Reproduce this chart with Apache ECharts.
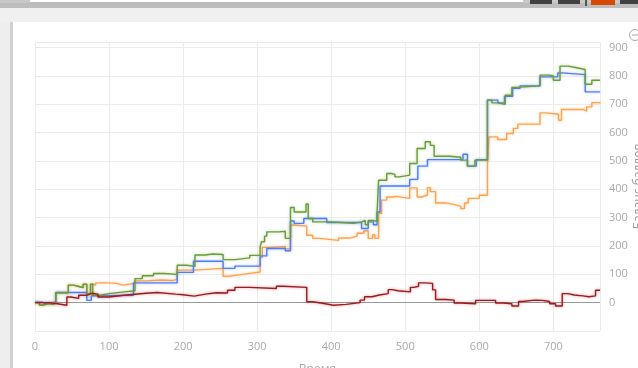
<!DOCTYPE html>
<html>
<head>
<meta charset="utf-8">
<script src="https://cdn.jsdelivr.net/npm/echarts@6/dist/echarts.min.js"></script>
<style>
html,body{margin:0;padding:0;background:#fff;width:638px;height:368px;overflow:hidden;}
#chart{position:absolute;left:0;top:0;width:638px;height:368px;}
.d{position:absolute;z-index:5;}
</style>
</head>
<body>
<div id="chart"></div>
<div class="d" style="left:0;top:0;width:638px;height:3px;background:#c8c8c8"></div>
<div class="d" style="left:30px;top:0;width:493px;height:3px;background:#fff;border-bottom:1px solid #bbb;box-sizing:border-box"></div>
<div class="d" style="left:0;top:3px;width:638px;height:5px;background:#bdbdbd"></div>
<div class="d" style="left:0;top:8px;width:638px;height:14px;background:#f0f0f0"></div>
<div class="d" style="left:0;top:22px;width:10px;height:346px;background:#eeeeee"></div>
<div class="d" style="left:10px;top:22px;width:3px;height:346px;background:#d0d0d0"></div>
<div class="d" style="left:530px;top:0;width:22px;height:4px;background:#414141"></div>
<div class="d" style="left:558px;top:0;width:22px;height:4px;background:#414141"></div>
<div class="d" style="left:585px;top:0;width:2px;height:6px;background:#555"></div>
<div class="d" style="left:591px;top:0;width:24px;height:5px;background:#d54a00"></div>
<div class="d" style="left:620px;top:0;width:18px;height:4px;background:#414141"></div>
<script>
// Series: [x, value] step change points
const orangeX = [0,6,12,18,24,28,45,52,58,65,70,75,79,82,100,110,118,135,150,170,185,192,215,254,262,280,295,304,307,320,338,345,350,367,375,385,410,425,435,444,450,456,459,464,468,475,484,488,506,516,522,530,534,541,555,568,575,580,585,600,611,613,625,637,646,652,682,690,707,711,740,745,752,763];
const orangeV = [0,-8,-3,-6,-2,35,62,58,53,65,32,65,62,70,68,62,68,77,80,78,82,115,121,93,100,105,108,160,195,198,190,274,270,238,227,220,228,235,245,254,227,240,227,315,362,373,375,368,405,373,380,406,392,352,345,340,332,352,368,379,485,585,576,597,615,630,670,665,644,682,676,691,706,703];

const blueX = [0,10,14,28,70,76,85,133,192,214,254,270,304,313,338,345,350,363,394,441,450,457,462,466,506,517,530,578,584,596,611,625,634,645,655,682,706,712,743,763];
const blueV = [2,-4,2,36,8,24,26,70,107,146,121,129,165,191,183,288,280,297,283,262,285,275,320,412,435,482,505,524,482,505,715,705,728,757,765,797,811,805,744,744];

const greenX = [0,6,12,18,24,28,45,52,58,65,70,75,78,88,100,120,135,145,160,175,192,205,216,230,240,254,270,290,304,306,310,313,330,338,345,350,366,369,375,400,420,430,441,446,450,457,462,464,475,481,486,492,506,516,527,534,539,560,575,584,594,611,617,625,635,644,650,682,695,700,709,720,730,743,752,763];
const greenV = [0,-8,-3,-6,-2,35,62,58,53,65,32,65,26,32,38,42,85,95,103,100,132,128,168,172,170,152,158,167,197,215,235,250,252,227,336,320,348,297,285,282,280,285,290,275,290,287,320,432,456,453,444,450,491,544,568,555,517,513,503,482,503,715,705,700,732,760,765,803,800,785,835,830,823,771,785,785];

const redX = [0,20,28,43,48,59,70,77,85,100,120,150,165,190,200,215,230,245,260,270,290,326,335,367,375,390,403,420,439,445,455,465,477,483,490,507,512,518,527,537,541,555,566,575,595,613,622,632,644,653,658,675,685,695,703,712,720,728,740,748,757,763];
const redV = [0,-3,-9,20,15,26,33,30,20,26,33,36,30,28,23,30,35,34,44,54,50,58,54,3,-3,-9,-6,0,9,21,27,32,46,42,38,54,58,70,68,45,11,9,-1,-4,8,8,-1,-4,-12,4,9,8,4,-4,-12,32,27,24,21,24,44,42];

const xTicks = [0,100,200,300,400,500,600,700];
const yTicks = [0,100,200,300,400,500,600,700,800,900];

function pairs(xs, vs){ return xs.map((x,i)=>[x, vs[i]]); }
function mk(name, xs, vs, color, extra){
  return Object.assign({
    name, type:'line', step:'end', showSymbol:false, symbol:'none',
    data: pairs(xs, vs),
    lineStyle:{color, width:1.4, shadowBlur:3, shadowColor:color+'77'},
    itemStyle:{color}, animation:false
  }, extra||{});
}
const chart = echarts.init(document.getElementById('chart'), null, {renderer:'canvas'});
const lab = {color:'#aaa', fontFamily:'Open Sans', fontSize:11};
chart.setOption({
  animation:false,
  backgroundColor:'#fff',
  grid:{left:35, right:38, top:42, bottom:37, containLabel:false, outerBoundsMode:'none'},
  xAxis:{type:'value', min:0, max:763, interval:100,
    axisLine:{show:false}, axisTick:{show:false},
    splitLine:{show:true, lineStyle:{color:'#ececec', width:1}},
    axisLabel:Object.assign({margin:10, showMaxLabel:false, showMinLabel:true,
      formatter:v=>xTicks.includes(v)?String(v):''}, lab),
    name:'Время', nameLocation:'middle', nameGap:33, nameMoveOverlap:false,
    nameTextStyle:{color:'#aaa', fontFamily:'Open Sans', fontSize:12}},
  yAxis:{type:'value', position:'right', min:-100, max:920, interval:100,
    axisLine:{show:false},
    axisTick:{show:true, length:6, lineStyle:{color:'#e6e6e6'}},
    splitLine:{show:true, lineStyle:{color:'#ececec', width:1}},
    axisLabel:Object.assign({margin:9, showMinLabel:false, showMaxLabel:false,
      formatter:v=>yTicks.includes(v)?String(v):''}, lab),
    name:'Баланс баллов', nameLocation:'middle', nameGap:33, nameMoveOverlap:false,
    nameTextStyle:{color:'#999', fontFamily:'Open Sans', fontSize:12}},
  series:[
    mk('orange', orangeX, orangeV, '#ffa24d', {z:2,
      markLine:{silent:true, symbol:'none', label:{show:false},
        lineStyle:{color:'#9a9a9a', width:1, type:'solid'},
        data:[{yAxis:0}], animation:false}}),
    mk('blue', blueX, blueV, '#4c7dfb', {z:3}),
    mk('green', greenX, greenV, '#6a9c3a', {z:4}),
    mk('red', redX, redV, '#a01a1e', {z:5})
  ],
  graphic:[
    {type:'circle', shape:{cx:635, cy:35, r:5.5}, style:{fill:'none', stroke:'#aaa', lineWidth:1}},
    {type:'line', shape:{x1:632, y1:35, x2:638, y2:35}, style:{stroke:'#aaa', lineWidth:1}}
  ]
});
</script>
</body>
</html>
